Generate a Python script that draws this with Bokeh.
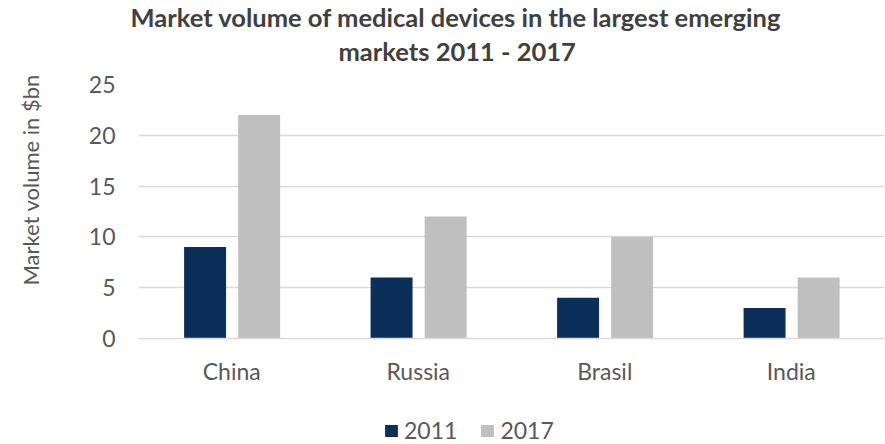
from bokeh.plotting import figure
from bokeh.layouts import column
from bokeh.models import ColumnDataSource, FactorRange, Title, Legend, LegendItem
from bokeh.transform import dodge
from bokeh.embed import file_html
from bokeh.resources import INLINE

categories = ["China", "Russia", "Brasil", "India"]
years = ["2011", "2017"]
values_2011 = [9, 6, 4, 3]
values_2017 = [22, 12, 10, 6]
y_ticks = [0, 5, 10, 15, 20, 25]
title_line1 = "Market volume of medical devices in the largest emerging"
title_line2 = "markets 2011 - 2017"
y_label = "Market volume in $bn"

FONT = "Lato"
TXT = "#595959"
C2011 = "#0c2f5a"
C2017 = "#bfbfbf"
GRID = "#d9d9d9"

src = ColumnDataSource(dict(cat=categories, v2011=values_2011, v2017=values_2017))

p = figure(width=885, height=410, x_range=FactorRange(*categories, range_padding=0),
           y_range=(0, 25), output_backend="svg", toolbar_location=None,
           min_border_left=138, min_border_right=1, min_border_top=84, min_border_bottom=72,
           outline_line_color=None)

p.vbar(x=dodge("cat", -0.143, range=p.x_range), top="v2011", width=0.225, source=src,
       fill_color=C2011, line_color=None)
p.vbar(x=dodge("cat", 0.147, range=p.x_range), top="v2017", width=0.225, source=src,
       fill_color=C2017, line_color=None)

p.xgrid.grid_line_color = None
p.ygrid.grid_line_color = GRID
p.ygrid.grid_line_width = 1.5
p.yaxis.ticker = y_ticks
p.yaxis.axis_line_color = None
p.yaxis.major_tick_line_color = None
p.yaxis.minor_tick_line_color = None
p.yaxis.major_label_standoff = 17
p.xaxis.axis_line_color = GRID
p.xaxis.axis_line_width = 1.5
p.xaxis.major_tick_line_color = None
p.xaxis.minor_tick_line_color = None
p.xaxis.major_label_standoff = 12
for ax in (p.xaxis, p.yaxis):
    ax.major_label_text_font = FONT
    ax.major_label_text_font_size = "23px"
    ax.major_label_text_color = TXT

# y axis label, lifted above the frame centre by leading spaces (as in the reference)
p.yaxis.axis_label = "\u2003\u2003\u2003\u2002\u2009" + y_label
p.yaxis.axis_label_text_font = FONT
p.yaxis.axis_label_text_font_size = "22px"
p.yaxis.axis_label_text_font_style = "normal"
p.yaxis.axis_label_text_color = TXT
p.yaxis.axis_label_standoff = 42

p.add_layout(Title(text=title_line2, align="left", offset=200, text_font=FONT,
                   text_font_size="25.5px", text_color="#404040", text_font_style="bold",
                   standoff=37), "above")
p.add_layout(Title(text=title_line1, align="left", offset=-8, text_font=FONT,
                   text_font_size="25.5px", text_color="#404040", text_font_style="bold",
                   standoff=-33), "above")

# legend strip below the chart (its frame is aligned with the chart frame)
lg = figure(width=885, height=34, output_backend="svg", toolbar_location=None,
            min_border=0, outline_line_color=None, x_range=(0, 1), y_range=(0, 1))
lg.axis.visible = False
lg.grid.visible = False
lsrc = ColumnDataSource(dict(x=[-5], top=[-5]))
l1 = lg.vbar(x="x", top="top", width=0.1, source=lsrc, fill_color=C2011, line_color=None)
l2 = lg.vbar(x="x", top="top", width=0.1, source=lsrc, fill_color=C2017, line_color=None)
legend = Legend(items=[LegendItem(label=years[0], renderers=[l1], index=0),
                       LegendItem(label=years[1], renderers=[l2], index=0)],
                orientation="horizontal", location=(245, 0),
                label_text_font=FONT, label_text_font_size="23px", label_text_color=TXT,
                glyph_width=16, glyph_height=15, spacing=22, label_standoff=5,
                border_line_color=None, background_fill_alpha=0, padding=0, margin=0)
lg.add_layout(legend, "center")

layout = column(p, lg, spacing=0)
open("out.html", "w").write(file_html(layout, INLINE))
